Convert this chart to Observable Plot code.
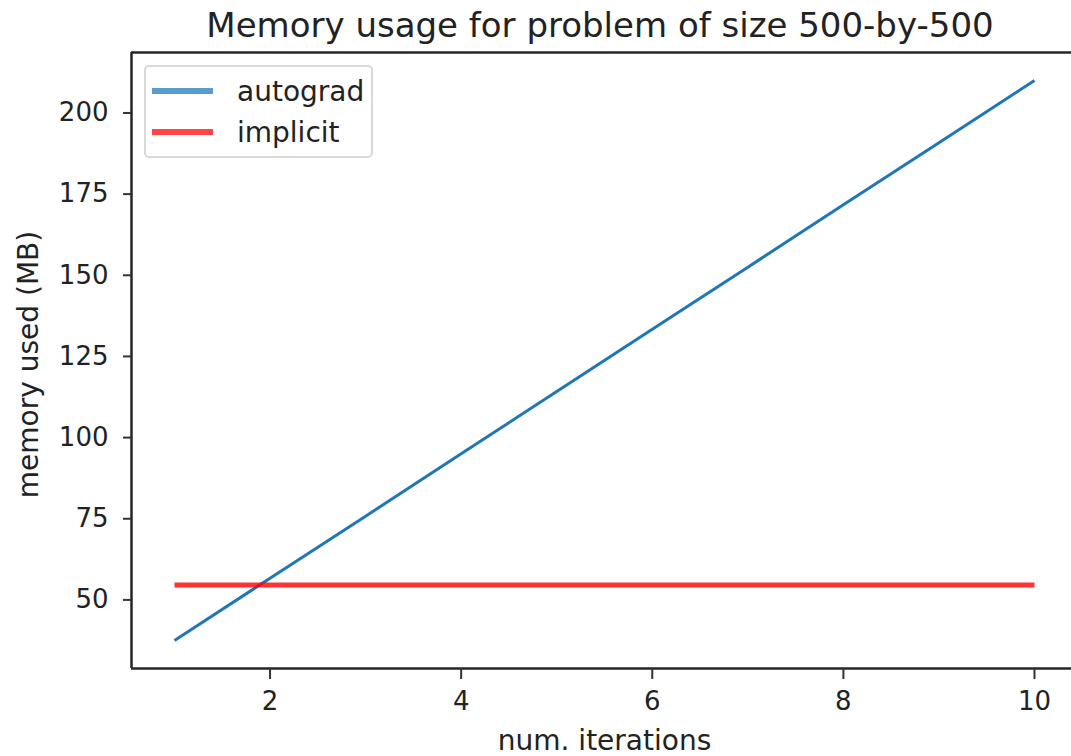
<!DOCTYPE html>
<html>
<head>
<meta charset="utf-8">
<script src="https://cdn.jsdelivr.net/npm/d3@7"></script>
<script src="https://cdn.jsdelivr.net/npm/@observablehq/plot@0.6"></script>
<style>
  html, body { margin: 0; padding: 0; background: #fff; }
  #wrap { position: relative; width: 1071px; height: 756px; overflow: hidden; font-family: "DejaVu Sans", sans-serif; color: #222; }
  #title { position: relative; height: 48px; }
  #title span { position: absolute; left: 600px; top: 8px; transform: translateX(-50%); font-size: 34px; line-height: 34px; white-space: nowrap; }
  #legend { position: absolute; left: 144px; top: 65px; width: 229px; height: 93px; box-sizing: border-box; border: 2px solid #d9d9d9; border-radius: 5px; background: rgba(255,255,255,0.85); }
  .sw { position: absolute; left: 6px; width: 61px; height: 6px; }
  .lt { position: absolute; left: 91px; font-size: 28px; line-height: 28px; white-space: nowrap; color: #222; }
  svg { display: block; }
</style>
</head>
<body>
<div id="wrap">
  <div id="title"><span></span></div>
  <div id="chart"></div>
  <div id="legend"></div>
</div>
<script>
// ---- data ----
const titleText = "Memory usage for problem of size 500-by-500";
const xLabel = "num. iterations";
const yLabel = "memory used (MB)";
const seriesNames = ["autograd", "implicit"];
const iterations = [1, 2, 3, 4, 5, 6, 7, 8, 9, 10];
const autograd = [37.5, 56.7, 75.8, 95.0, 114.2, 133.4, 152.5, 171.7, 190.8, 210.0];
const implicit = [54.6, 54.6, 54.6, 54.6, 54.6, 54.6, 54.6, 54.6, 54.6, 54.6];
const xTicks = [2, 4, 6, 8, 10];
const yTicks = [50, 75, 100, 125, 150, 175, 200];

const rows = iterations.map((it, i) => ({it, autograd: autograd[i], implicit: implicit[i]}));

const xMin = d3.min(iterations), xMax = d3.max(iterations);
const xPad = (xMax - xMin) * 0.05;
const allY = autograd.concat(implicit);
const yMin = d3.min(allY), yMax = d3.max(allY);
const yPad = (yMax - yMin) * 0.05;

const W = 1071, H = 708;
const mL = 131, mT = 4, mB = 88, mR = 0;

const chart = Plot.plot({
  width: W,
  height: H,
  marginLeft: mL,
  marginTop: mT,
  marginBottom: mB,
  marginRight: mR,
  x: {domain: [xMin - xPad, xMax + xPad], range: [mL, 1077]},
  y: {domain: [yMin - yPad, yMax + yPad], range: [H - mB, mT]},
  style: {fontFamily: "DejaVu Sans, sans-serif", background: "#fff", color: "#222", overflow: "visible"},
  marks: [
    Plot.line(rows, {x: "it", y: "autograd", stroke: "#1f77b4", strokeWidth: 3, strokeLinecap: "butt"}),
    Plot.line(rows, {x: "it", y: "implicit", stroke: "#ff0000", strokeOpacity: 0.8, strokeWidth: 5, strokeLinecap: "butt"}),
    Plot.ruleY([yMin - yPad, yMax + yPad], {stroke: "#262626", strokeWidth: 2.5}),
    Plot.ruleX([xMin - xPad], {stroke: "#262626", strokeWidth: 2.5}),
    Plot.axisX({ticks: xTicks, tickSize: 11, tickPadding: 12, fontSize: 26, label: null, stroke: "#333", strokeWidth: 2, color: "#222"}),
    Plot.axisY({ticks: yTicks, tickSize: 8, tickPadding: 15, fontSize: 26, label: null, stroke: "#333", strokeWidth: 2, color: "#222"}),
    Plot.text([xLabel], {frameAnchor: "bottom", dx: 3, dy: 73, lineAnchor: "middle", textAnchor: "middle", fontSize: 28, fill: "#222"}),
    Plot.text([yLabel], {frameAnchor: "left", rotate: -90, dx: -102, dy: 4, lineAnchor: "middle", textAnchor: "middle", fontSize: 28, fill: "#222"})
  ]
});
document.getElementById("chart").appendChild(chart);
document.querySelector("#title span").textContent = titleText;

// legend
const legendColors = ["#5a9bc9", "#ff4444"];
const legend = document.getElementById("legend");
const swTops = [21, 62];
const txtTops = [11, 52];
seriesNames.forEach((name, i) => {
  const sw = document.createElement("div");
  sw.className = "sw";
  sw.style.top = swTops[i] + "px";
  sw.style.background = legendColors[i];
  legend.appendChild(sw);
  const t = document.createElement("div");
  t.className = "lt";
  t.style.top = txtTops[i] + "px";
  t.textContent = name;
  legend.appendChild(t);
});
</script>
</body>
</html>
